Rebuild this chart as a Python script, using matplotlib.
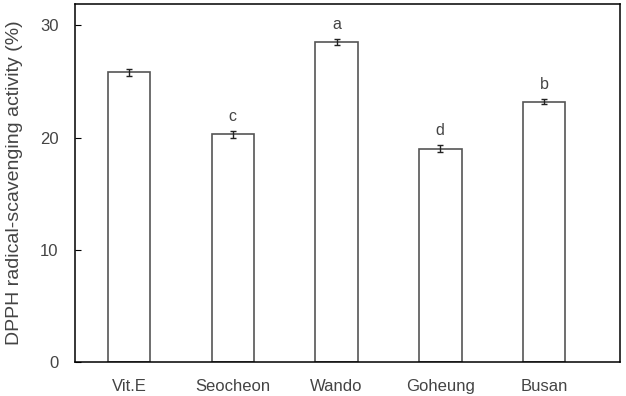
import matplotlib
matplotlib.use('Agg')
import matplotlib.pyplot as plt

plt.rcParams['font.family'] = ['Liberation Sans', 'DejaVu Sans']

samples = ['Vit.E', 'Seocheon', 'Wando', 'Goheung', 'Busan']
activity = [25.8, 20.3, 28.5, 19.0, 23.2]
err = [0.3, 0.3, 0.3, 0.3, 0.25]
letters = ['', 'c', 'a', 'd', 'b']

fig = plt.figure(figsize=(6.26, 3.96), dpi=100)
ax = fig.add_axes([0.12, 0.086, 0.87, 0.904])

x = range(len(samples))
ax.bar(x, activity, width=0.41, color='white', edgecolor='#555555', linewidth=1.2,
       yerr=err, error_kw=dict(ecolor='#222222', elinewidth=1, capsize=2.5, capthick=1))

for i, (v, e, l) in enumerate(zip(activity, err, letters)):
    if l:
        ax.annotate(l, (i, v + e), xytext=(0, 5), textcoords='offset points',
                    ha='center', va='bottom', fontsize=11.5, color='#444444')

ax.set_xlim(-0.52, 4.73)
ax.set_ylim(0, 31.9)
ax.set_yticks([0, 10, 20, 30])
ax.set_xticks(list(x))
ax.set_xticklabels(samples)
ax.tick_params(axis='y', direction='in', length=4, labelsize=12, labelcolor='#444444',
               color='black', pad=12)
ax.tick_params(axis='x', length=0, labelsize=12, labelcolor='#444444', pad=12)
for s in ax.spines.values():
    s.set_linewidth(1.1)
ax.set_ylabel('DPPH radical-scavenging activity (%)', fontsize=14, color='#444444', labelpad=12)

fig.savefig('out.png', dpi=100)
